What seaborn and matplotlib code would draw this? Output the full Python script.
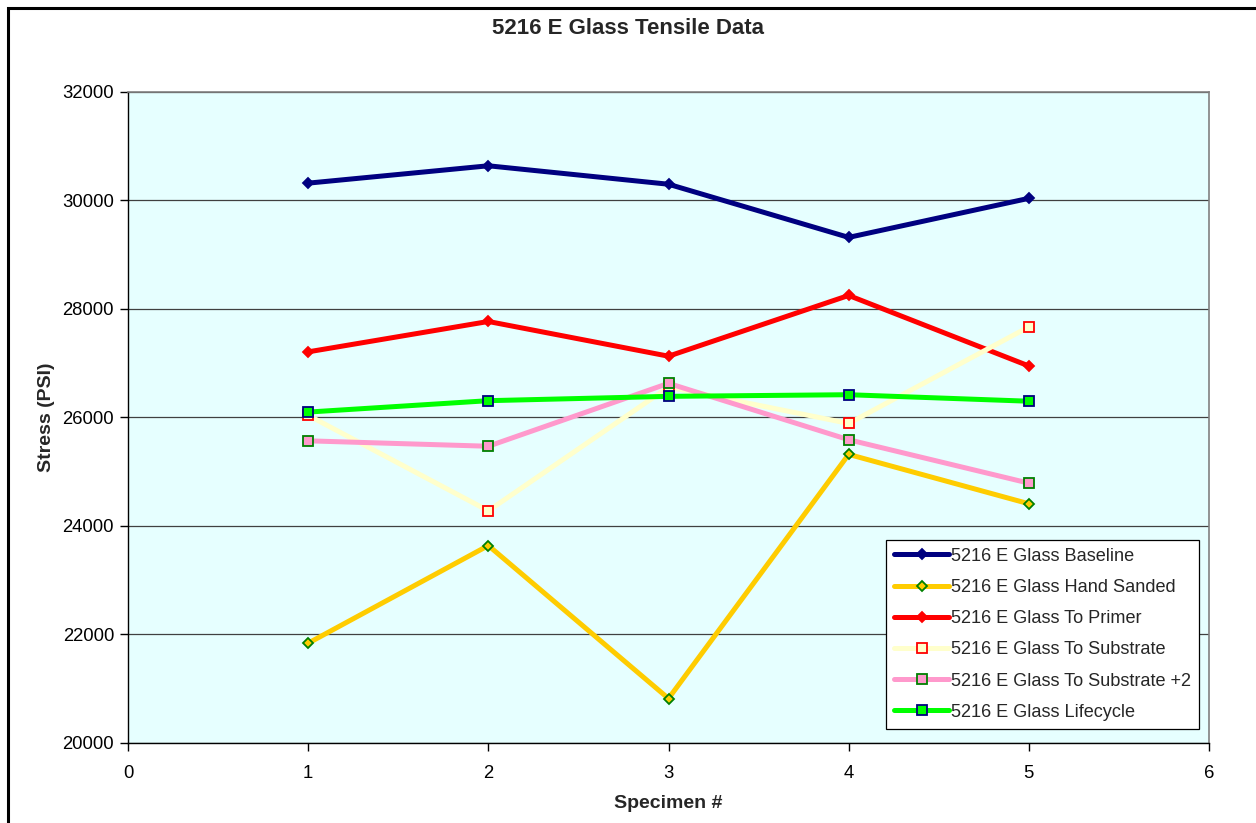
import numpy as np
import pandas as pd
import matplotlib
matplotlib.use('Agg')
import matplotlib.pyplot as plt
import matplotlib.patches as patches
import seaborn as sns

specimen = [1, 2, 3, 4, 5]
baseline = [30320, 30640, 30300, 29320, 30040]
hand_sanded = [21840, 23640, 20820, 25320, 24410]
to_primer = [27210, 27770, 27130, 28250, 26950]
to_substrate = [26040, 24280, 26560, 25890, 27670]
to_substrate2 = [25570, 25470, 26630, 25590, 24790]
lifecycle = [26100, 26310, 26390, 26420, 26300]

series = [
    ('5216 E Glass Baseline', baseline, '#000080', 'D', '#000080', '#000080'),
    ('5216 E Glass Hand Sanded', hand_sanded, '#FFCC00', 'D', '#FFCC00', '#008000'),
    ('5216 E Glass To Primer', to_primer, '#FF0000', 'D', '#FF0000', '#FF0000'),
    ('5216 E Glass To Substrate', to_substrate, '#FFFFCC', 's', '#FFFFCC', '#FF0000'),
    ('5216 E Glass To Substrate +2', to_substrate2, '#FF99CC', 's', '#FF99CC', '#008000'),
    ('5216 E Glass Lifecycle', lifecycle, '#00FF00', 's', '#00FF00', '#000080'),
]

sns.set_style('white')
plt.rcParams['font.family'] = ['Liberation Sans', 'DejaVu Sans']

fig = plt.figure(figsize=(12.56, 8.23), dpi=100)
ax = fig.add_axes([128 / 1256, 1 - 743 / 823, (1209 - 128) / 1256, (743 - 92) / 823])
ax.set_facecolor('#E6FFFF')

for name, vals, color, marker, mfc, mec in series:
    df = pd.DataFrame({'Specimen': specimen, 'Stress': vals})
    ms = 5.5 if marker == 'D' else 7
    sns.lineplot(data=df, x='Specimen', y='Stress', ax=ax, color=color, linewidth=3.6,
                 marker=marker, markersize=ms, markerfacecolor=mfc, markeredgecolor=mec,
                 markeredgewidth=1.3, label=name)

ax.set_xlim(0, 6)
ax.set_ylim(20000, 32000)
ax.set_xticks(range(0, 7))
ax.set_yticks(range(20000, 32001, 2000))
ax.yaxis.grid(True, color='#404040', linewidth=0.9)
ax.set_axisbelow(True)
for s in ['top', 'right']:
    ax.spines[s].set_color('#808080')
    ax.spines[s].set_linewidth(1.2)
for s in ['left', 'bottom']:
    ax.spines[s].set_color('black')
    ax.spines[s].set_linewidth(1.0)
ax.tick_params(axis='both', which='both', direction='out', length=6, width=1.0,
               labelsize=13.3, colors='black', left=True, bottom=True)
ax.tick_params(axis='x', pad=10)
ax.tick_params(axis='y', pad=4)

ax.set_xlabel('Specimen #', fontsize=14, fontweight='bold', labelpad=9)
ax.set_ylabel('Stress (PSI)', fontsize=14, fontweight='bold', labelpad=5)
fig.suptitle('5216 E Glass Tensile Data', fontsize=16, fontweight='bold', y=1 - 18 / 823)

leg = ax.legend(loc='lower right', bbox_to_anchor=(1071 / 1081, 14 / 651), fontsize=13.1,
                frameon=True, fancybox=False, edgecolor='black', handlelength=3.0,
                handletextpad=0.1, borderpad=0.45, labelspacing=0.78, borderaxespad=0)
leg.get_frame().set_linewidth(0.9)
leg.get_frame().set_facecolor('white')
leg.get_frame().set_alpha(1)

fig.patches.append(patches.Rectangle((8 / 1256, -0.01), 1.05, 1 - 8 / 823 + 0.01,
                                     transform=fig.transFigure, fill=False,
                                     edgecolor='black', linewidth=2.2))

fig.savefig('out.png', dpi=100)
